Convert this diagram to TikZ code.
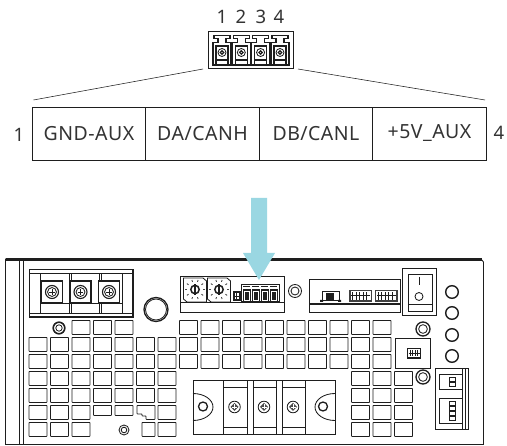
\documentclass[tikz,border=0pt]{standalone}
\usepackage{fontspec}
\setmainfont{Noto Sans}
\newfontfamily\cellfont[LetterSpace=2.5]{Noto Sans}
\definecolor{inkc}{HTML}{1E1E1E}
\definecolor{textc}{HTML}{333333}
\definecolor{arrowc}{HTML}{9AD7E2}
\tikzset{
  cell/.style={draw=inkc,line width=.8pt,minimum width=113.5pt,minimum height=53pt,inner sep=0pt,text=textc,font=\cellfont\fontsize{19.5}{22}\selectfont},
  num/.style={text=textc,inner sep=0pt,font=\fontsize{18.5}{20}\selectfont},
  part/.style={draw=inkc,line width=.85pt},
  vent/.style={draw=inkc,line width=.85pt,rounded corners=.6pt},
  heavy/.style={draw=inkc,line width=1.3pt},
  guide/.style={draw=inkc,line width=.55pt},
}
% small round parts
\newcommand{\ringpart}[3]{
  \draw[heavy] (#1,#2) circle (#3);
  \draw[part] (#1,#2) circle (#3*.62);
}
\newcommand{\screwpart}[3]{
  \draw[part,line width=1.1pt] (#1,#2) circle (#3);
  \draw[part] (#1,#2) circle (#3*.68);
  \draw[part,line width=.7pt] (#1-#3*.45,#2) -- (#1+#3*.45,#2) (#1,#2-#3*.45) -- (#1,#2+#3*.45);
}
\newcommand{\pinpart}[1]{
  \draw[part,line width=1.1pt] (#1-8,35.5) -- (#1+8,35.5) -- (#1+8,38.5) -- (#1+4,38.5) -- (#1+4,42.5) -- (#1+9,42.5) -- (#1+9,65) -- (#1-9,65) -- (#1-9,42.5) -- (#1-4,42.5) -- (#1-4,38.5) -- (#1-8,38.5) -- cycle;
  \draw[part,line width=1.1pt] (#1-6,46) rectangle (#1+6,60) (#1-6,60) -- (#1-6,64) (#1+6,60) -- (#1+6,64);
  \draw[part] (#1,52.5) circle (4);
  \draw[part,line width=1.2pt] (#1,52.5) circle (1.7);
}
\newcommand{\dialpart}[1]{
  \draw[part] (#1-11.5,278) -- (#1+8,278) -- (#1+11.5,281) -- (#1+11.5,302) -- (#1-8,302) -- (#1-11.5,299) -- cycle;
  \foreach \a in {0,36,...,324}
    \draw[inkc!80,line width=.9pt] (#1+8*cos \a,289.5+8*sin \a) -- (#1+10*cos \a,289.5+10*sin \a);
  \draw[inkc,line width=1.5pt] (#1,289.5) circle (4.2);
  \fill[inkc] (#1-1.4,284) rectangle (#1+1.4,295);
}
\begin{document}
\begin{tikzpicture}[x=1pt,y=-1pt]
\useasboundingbox (0,0) rectangle (507,446);
% table of signals
\node[cell] (aux) at (429.5,133.5) {+5V\_AUX};
\node[cell] (dbl) at (316,133.5) {DB/CANL};
\node[cell] (dah) at (202.5,133.5) {DA/CANH};
\node[cell] (gnd) at (89,133.5) {GND-AUX};
\node[num] (n1) at (19,135) {1};
\node[num] (n4) at (499,133) {4};
% pin numbers above the plug
\node[num] (t1) at (222,17) {1};
\node[num] (t2) at (241,17) {2};
\node[num] (t3) at (261,17) {3};
\node[num] (t4) at (279,17) {4};
% enlarged plug
\draw[part,line width=1pt] (208.5,31.5) rectangle (293,68.5);
\foreach \x in {222,241.3,260.6,280} \pinpart{\x}
\coordinate (la) at (33.5,100);
\coordinate (lb) at (203,69);
\coordinate (ra) at (485,100);
\coordinate (rb) at (298,69);
\draw[guide] (la) -- (lb);
\draw[guide] (ra) -- (rb);
% chassis
\draw[part] (5.5,445) -- (5.5,259) -- (481,259) -- (483.5,262) -- (483.5,445);
\draw[inkc,line width=2.2pt] (5.5,259.5) -- (482,259.5);
\draw[part] (5.5,444.5) -- (483.5,444.5);
\draw[part] (19.5,260) -- (19.5,444);
\draw[part] (23,260) -- (23,444);
% vents
\foreach \k in {2,3,4,7,8,...,16} \draw[vent] (29+21.5*\k,320.5) rectangle +(18,14);
\foreach \r in {337,354} \foreach \k in {0,1,...,16} \draw[vent] (29+21.5*\k,\r.5) rectangle +(18,14);
\foreach \r in {371,388} \foreach \k in {0,1,...,6,15,16,17} \draw[vent] (29+21.5*\k,\r.5) rectangle +(18,14);
\foreach \k in {0,1,2,6,15,16,17} \draw[vent] (29+21.5*\k,405.5) rectangle +(18,14);
\foreach \k in {3,4} \draw[vent] (29+21.5*\k,405.5) rectangle +(18,10);
\draw[vent] (137,405.5) -- (155,405.5) -- (155,419.5) -- (146,419.5) -- (146,416) -- (142,416) -- (142,414) -- (137,414) -- cycle;
\foreach \k in {0,1,2,6,15,16,17} \draw[vent] (29+21.5*\k,422.5) rectangle +(18,14);
\draw[vent] (142,422.5) rectangle (155,436.5);
% big terminal on the left
\draw[heavy] (29.5,269.5) rectangle (133,317);
\draw[part] (29.5,273.5) -- (133,273.5);
\draw[part] (29.5,313.5) -- (133,313.5);
\foreach \x in {40.5,69.5,71.5,99,101,122.5} \draw[part] (\x,273.5) -- (\x,313.5);
\draw[part] (40.5,303) -- (122.5,303);
\foreach \x in {52,80.5,109} {
  \draw[heavy,fill=white] (\x-10.5,281) rectangle (\x+10.5,303);
  \screwpart{\x}{292}{6.5}
}
% knob and rings
\draw[heavy] (156,309.5) circle (12);
\draw[part] (156,309.5) circle (10.5);
\draw[inkc,line width=1.6pt] (59,328) circle (5.8);
\draw[part] (59,328) circle (3.2);
\draw[part] (124,430) circle (5);
\draw[part] (124,430) circle (2.8);
% address panel
\draw[part,line width=1pt] (180,277) rectangle (284.5,313);
\draw[part] (180,302.5) -- (284.5,302.5);
\dialpart{195}
\dialpart{219}
\draw[inkc,line width=2pt] (233.5,292) rectangle (240,300.5);
\draw[inkc,line width=1pt] (233.5,296.2) -- (240,296.2) (236.7,292) -- (236.7,300.5);
\draw[part,line width=1pt] (241.5,285) rectangle (279,302);
\foreach \x in {246.5,255.5,264.5,273.5} {
  \fill[inkc] (\x-4,289.5) rectangle (\x+4,302);
  \draw[inkc,line width=.9pt] (\x-3.5,286.5) -- (\x+3.5,286.5);
  \draw[white,line width=.5pt] (\x-2.5,291.5) rectangle (\x+2.5,300);
}
\draw[part] (295,291) circle (6.5);
\draw[part] (295,291) circle (4);
% second panel with switch and headers
\draw[part,line width=1pt] (309,280) -- (400,280) -- (400,313) -- (309,313) -- cycle;
\draw[part,line width=1.1pt] (309,304) -- (400,304);
\draw[part] (322,291.5) rectangle (339,300);
\fill[inkc] (326,293) rectangle (334,300);
\fill[inkc] (320,300) rectangle (323,302) (338,300) rectangle (341,302);
\foreach \x in {349,374.5} {
  \fill[inkc!85] (\x,290) rectangle (\x+23,302);
  \fill[white] (\x+1.5,291.5) rectangle (\x+21.5,300.5);
  \foreach \i in {3,6.5,...,20} \fill[inkc] (\x+\i,292) rectangle (\x+\i+1,300);
  \fill[inkc] (\x+2,295.5) rectangle (\x+21,296.5);
}
% rocker switch
\draw[part,line width=1pt] (402.5,269) rectangle (436.5,316);
\draw[part] (408,274) rectangle (432,311);
\draw[part] (408,304) -- (432,304);
\draw[inkc,line width=.9pt] (419,277) -- (419,285);
\draw[part] (419,296.5) circle (4);
% right side circles
\foreach \y in {292,313,335,356} \draw[inkc,line width=1.4pt] (452,\y) circle (6.3);
\ringpart{423}{329}{7}
\ringpart{423}{377}{7}
% small header panel
\draw[part,fill=white] (395.5,338) rectangle (430,368);
\draw[inkc,line width=1.2pt] (407.5,348.5) rectangle (420.5,358);
\foreach \x in {410,412.5,415,417.5} \draw[inkc,line width=.7pt] (\x,350) -- (\x,356.5);
\draw[inkc,line width=.7pt] (408.5,353.2) -- (419.5,353.2);
% dip switches
\draw[part] (435,368.5) rectangle (468,429);
\draw[part] (462,368.5) -- (462,429);
\draw[part] (465,368.5) -- (465,429);
\draw[part] (439,374) rectangle (462,389);
\draw[part] (439,398) rectangle (462,423);
\foreach \y in {377.5,382.5} \draw[part] (449,\y) rectangle (455.5,\y+4);
\foreach \y in {401,406,411,416} \draw[part] (449,\y) rectangle (455.5,\y+4);
% bottom terminal
\draw[part,fill=white] (193,380) rectangle (335,434);
\foreach \x in {223.5,253,282} {
  \draw[part] (\x,380) rectangle (\x+23.5,434);
  \draw[part] (\x,387) -- (\x+23.5,387) (\x,427) -- (\x+23.5,427);
}
\foreach \x in {234.5,264,293} {
  \draw[part] (\x,407) circle (5.8);
  \fill[inkc!80] (\x,403) -- (\x+4,407) -- (\x,411) -- (\x-4,407) -- cycle;
  \draw[white,line width=.4pt] (\x-2.5,407) -- (\x+2.5,407) (\x,404.5) -- (\x,409.5);
}
\draw[part] (193,393.5) arc (-90:90:20 and 13.5);
\draw[part] (335,393.5) arc (270:90:20 and 13.5);
\draw[inkc,line width=1.3pt] (203,406.5) circle (4.5);
\draw[inkc,line width=1.3pt] (323,406.5) circle (4.5);
% big arrow
\fill[arrowc] (251,198) -- (267,198) -- (267,253) -- (275,253) -- (259,280) -- (243,253) -- (251,253) -- cycle;
\end{tikzpicture}
\end{document}
